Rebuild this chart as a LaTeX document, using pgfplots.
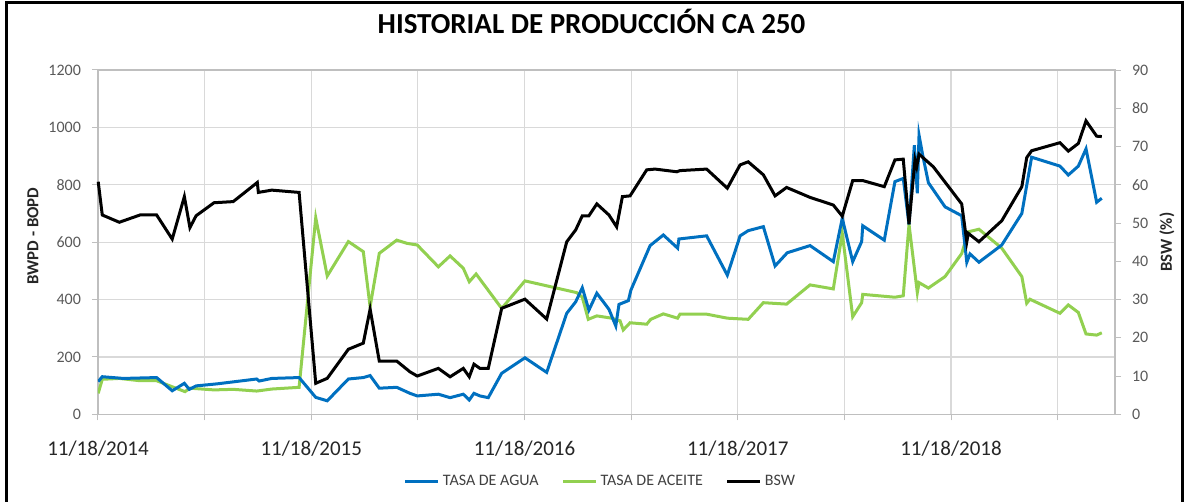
\documentclass[border=0pt]{standalone}
\usepackage{fontspec}
\setmainfont{Carlito}
\usepackage{pgfplots}
\usepackage{pgfplotstable}
\pgfplotsset{compat=1.18}
\definecolor{agua}{HTML}{0070C0}
\definecolor{aceite}{HTML}{92D050}
\definecolor{gridgray}{HTML}{D9D9D9}
\definecolor{axgray}{HTML}{BFBFBF}
\definecolor{txtgray}{HTML}{595959}

% x = years since 11/18/2014
\pgfplotstableread{
x y
0.001 114
0.020 131
0.119 125
0.275 128
0.348 82
0.405 108
0.428 87
0.460 99
0.557 106
0.744 123
0.756 116
0.815 125
0.943 128
1.021 59
1.075 47
1.174 123
1.244 128
1.276 135
1.319 91
1.401 94
1.463 73
1.497 64
1.596 70
1.651 58
1.713 70
1.741 50
1.763 73
1.791 64
1.830 58
1.893 143
2.002 197
2.104 146
2.198 352
2.240 392
2.271 441
2.302 363
2.339 422
2.396 366
2.428 308
2.443 383
2.487 396
2.499 433
2.589 588
2.651 625
2.718 579
2.724 611
2.854 622
2.951 485
3.011 622
3.049 640
3.120 654
3.175 517
3.232 563
3.339 588
3.448 532
3.490 683
3.539 532
3.581 602
3.586 657
3.687 607
3.737 811
3.776 822
3.803 662
3.828 938
3.842 770
3.850 973
3.867 904
3.894 807
3.972 723
4.050 692
4.074 530
4.089 559
4.131 530
4.238 590
4.332 700
4.378 896
4.511 865
4.550 834
4.597 865
4.633 925
4.683 739
4.707 753
}\agua

\pgfplotstableread{
x y
0.001 73
0.020 122
0.100 125
0.197 117
0.275 117
0.348 96
0.408 79
0.431 91
0.544 85
0.634 87
0.744 81
0.815 88
0.943 94
1.021 685
1.075 482
1.174 602
1.244 567
1.276 375
1.319 561
1.401 607
1.448 596
1.497 590
1.596 514
1.651 552
1.713 509
1.741 462
1.773 489
1.893 369
2.002 465
2.245 424
2.271 408
2.299 331
2.339 343
2.409 335
2.448 326
2.463 294
2.495 319
2.573 314
2.592 331
2.651 350
2.718 335
2.729 349
2.854 349
2.951 335
3.049 331
3.120 389
3.229 384
3.339 451
3.448 437
3.490 631
3.539 340
3.581 389
3.586 418
3.737 408
3.776 413
3.803 662
3.842 424
3.850 459
3.894 440
3.972 480
4.050 560
4.081 636
4.131 645
4.238 579
4.332 480
4.355 387
4.370 401
4.511 352
4.550 381
4.597 355
4.633 280
4.683 276
4.707 284
}\aceite

\pgfplotstableread{
x y
0.001 60.8
0.020 52.1
0.100 50.2
0.197 52.1
0.275 52.1
0.348 45.8
0.405 56.9
0.431 48.8
0.460 51.9
0.544 55.3
0.634 55.6
0.747 60.6
0.752 58.0
0.815 58.6
0.943 58.0
1.021 8.1
1.075 9.4
1.174 17.0
1.244 18.6
1.276 27.5
1.319 13.9
1.401 13.9
1.463 11.1
1.497 10.0
1.596 12.0
1.651 9.8
1.713 12.0
1.741 9.8
1.763 13.1
1.791 12.0
1.830 12.0
1.893 27.7
2.002 30.1
2.104 24.9
2.198 45.1
2.240 48.2
2.271 51.9
2.302 51.9
2.339 55.0
2.396 52.1
2.432 49.0
2.459 56.9
2.495 57.1
2.573 63.9
2.612 64.1
2.714 63.4
2.729 63.7
2.854 64.1
2.951 59.1
3.011 65.2
3.049 66.0
3.120 62.6
3.175 57.1
3.229 59.3
3.339 56.7
3.448 54.7
3.490 51.8
3.539 61.1
3.586 61.1
3.687 59.5
3.737 66.5
3.776 66.7
3.803 49.7
3.831 66.5
3.839 64.7
3.850 68.0
3.917 64.7
4.050 55.0
4.074 45.1
4.081 47.3
4.131 45.1
4.238 50.6
4.332 59.5
4.355 67.1
4.378 68.9
4.511 71.0
4.550 68.8
4.597 70.8
4.633 76.7
4.683 72.7
4.707 72.6
}\bsw

\begin{document}
\begin{tikzpicture}
\path[use as bounding box] (0,0) rectangle (594.5pt,251pt);
\draw[line width=1.5pt] (3.25pt,0) -- (3.25pt,249.5pt) -- (591pt,249.5pt) -- (591pt,0);

\pgfplotsset{
  base/.style={
    scale only axis, width=508.5pt, height=172.15pt,
    at={(49pt,43.85pt)}, anchor=south west,
    xmin=0, xmax=4.769,
    /pgf/number format/assume math mode=true,
    /pgf/number format/1000 sep={},
    tick align=outside, major tick length=3pt,
    tick style={axgray, line width=0.5pt},
    axis line style={axgray, line width=0.6pt},
    yticklabel style={font=\fontsize{8}{9}\selectfont, text=txtgray},
    ylabel style={font=\bfseries\fontsize{8.4}{10}\selectfont, text=black!85},
  },
}

\begin{axis}[base,
  ymin=0, ymax=1200, ytick={0,200,...,1200},
  ytick pos=left, xtick pos=bottom,
  xtick={0,0.5,1,1.5,2,2.5,3,3.5,4,4.5},
  xticklabels={11/18/2014,,11/18/2015,,11/18/2016,,11/18/2017,,11/18/2018,},
  xticklabel style={font=\fontsize{10.5}{12}\selectfont, text=black!85, yshift=-7pt},
  yticklabel style={xshift=-2pt},
  xmajorgrids, ymajorgrids,
  grid style={gridgray, line width=0.6pt},
  ylabel={BWPD - BOPD},
  ylabel style={at={(axis description cs:-0.0639,0.518)}, anchor=center},
  title={HISTORIAL DE PRODUCCIÓN CA 250},
  title style={at={(axis description cs:0.4853,1.1075)}, anchor=center,
    font=\bfseries\fontsize{14.5}{16}\selectfont},
]
\addplot[aceite, line width=1.5pt] table[x=x, y=y] {\aceite};
\addplot[agua, line width=1.5pt] table[x=x, y=y] {\agua};
\end{axis}

\begin{axis}[base,
  ymin=0, ymax=90, ytick={0,10,...,90},
  axis y line*=right, axis x line=none,
  yticklabel style={xshift=2pt},
  legend columns=3,
  legend style={at={(axis description cs:0.4946,-0.1966)}, anchor=center,
    draw=none, fill=none, font=\fontsize{8}{9.6}\selectfont, text=black!75,
    nodes={inner xsep=1.5pt},
    /tikz/every even column/.append style={column sep=10pt}},
  legend image code/.code={\draw[#1, line width=1.5pt] (0pt,0pt) -- (16.5pt,0pt);},
  clip=false,
]
\addlegendimage{agua}
\addlegendentry{TASA DE AGUA}
\addlegendimage{aceite}
\addlegendentry{TASA DE ACEITE}
\addplot[black, line width=1.5pt] table[x=x, y=y] {\bsw};
\addlegendentry{BSW}
\node[rotate=90, anchor=center, font=\bfseries\fontsize{8.4}{10}\selectfont, text=black!85]
  at (rel axis cs:1.0511,0.5) {BSW (\%)};
\end{axis}
\end{tikzpicture}
\end{document}
